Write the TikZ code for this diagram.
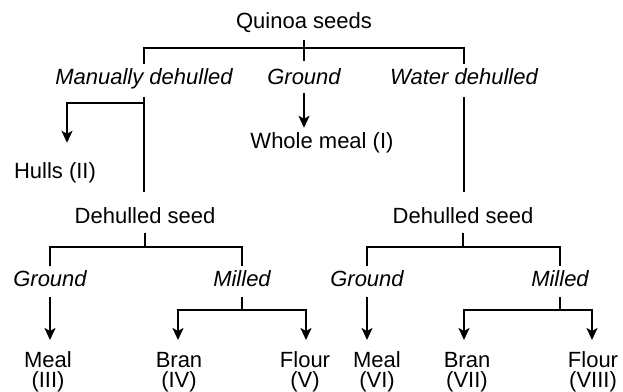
\documentclass[tikz,border=0pt]{standalone}
\usepackage{fontspec}
\setmainfont{Liberation Sans}
\usetikzlibrary{arrows.meta}
\tikzset{
  lab/.style={font=\fontsize{22}{20}\selectfont, inner sep=0pt, text height=16pt, text depth=0pt, anchor=base},
  op/.style={lab, font=\fontsize{22}{20}\selectfont\itshape},
  bot/.style={font=\fontsize{22}{20}\selectfont, inner sep=0pt, align=center, anchor=base},
  ln/.style={line width=2pt},
  tip/.tip={Stealth[length=12pt,width=11pt,inset=3pt]},
  arr/.style={ln, -tip},
  arrs/.style={ln, tip-tip},
}
\begin{document}
\begin{tikzpicture}[x=1pt,y=-1pt]
\useasboundingbox (0,0) rectangle (623,391);
% nodes
\node[lab] (qs) at (304,28) {Quinoa seeds};
\node[op] (md) at (144,84) {Manually dehulled};
\node[op] (g1) at (304,84) {Ground};
\node[op] (wd) at (464,84) {Water dehulled};
\node[lab] (wm) at (322,148) {Whole meal (I)};
\node[lab] (hl) at (55,178) {Hulls (II)};
\node[lab] (ds1) at (145,223) {Dehulled seed};
\node[lab] (ds2) at (463,223) {Dehulled seed};
\node[op] (g2) at (50,286) {Ground};
\node[op] (m2) at (242,286) {Milled};
\node[op] (g3) at (367,286) {Ground};
\node[op] (m3) at (560,286) {Milled};
% base anchor of a two-line node is the baseline of its last line
\node[bot] (me1) at (48,387) {Meal\\(III)};
\node[bot] (br1) at (179,387) {Bran\\(IV)};
\node[bot] (fl1) at (305,387) {Flour\\(V)};
\node[bot] (me2) at (377,387) {Meal\\(VI)};
\node[bot] (br2) at (467,387) {Bran\\(VII)};
\node[bot] (fl2) at (593,387) {Flour\\(VIII)};
% arrow targets just above the bottom labels
\coordinate (bt) at (0,340);
% top level
\draw[ln] ([yshift=-12pt]qs.base) -- ([yshift=-33pt]qs.base);
\draw[ln] ([yshift=4pt]md.north) |- ([yshift=-20pt]qs.base) -| ([yshift=4pt]wd.north);
\draw[ln] ([yshift=-13pt]md.base) -- ([yshift=15pt]md.base |- ds1.north);
\draw[arr] ([yshift=-19pt]md.base) -| ([xshift=12pt,yshift=19pt]hl.north);
\draw[arr] ([yshift=-9pt]g1.base) -- ([yshift=4pt]g1.base |- wm.north);
\draw[ln] ([yshift=-13pt]wd.base) -- ([yshift=15pt]wd.base |- ds2.north);
% left subtree
\draw[ln] ([yshift=-10pt]ds1.base) -- ([yshift=-24pt]ds1.base);
\draw[ln] ([yshift=4pt]g2.north) |- ([yshift=-24pt]ds1.base) -| ([yshift=4pt]m2.north);
\draw[arr] ([yshift=-11pt]g2.base) -- (g2.base |- bt);
\draw[ln] ([yshift=-11pt]m2.base) -- ([yshift=-24pt]m2.base);
\draw[arrs] ([xshift=-1pt]br1.base |- bt) |- ([yshift=-24pt]m2.base) -| ([xshift=1pt]fl1.base |- bt);
% right subtree
\draw[ln] ([yshift=-10pt]ds2.base) -- ([yshift=-24pt]ds2.base);
\draw[ln] ([yshift=4pt]g3.north) |- ([yshift=-24pt]ds2.base) -| ([yshift=4pt]m3.north);
\draw[arr] ([yshift=-11pt]g3.base) -- (g3.base |- bt);
\draw[ln] ([yshift=-11pt]m3.base) -- ([yshift=-24pt]m3.base);
\draw[arrs] ([xshift=-3pt]br2.base |- bt) |- ([yshift=-24pt]m3.base) -| ([xshift=-1pt]fl2.base |- bt);
\end{tikzpicture}
\end{document}
